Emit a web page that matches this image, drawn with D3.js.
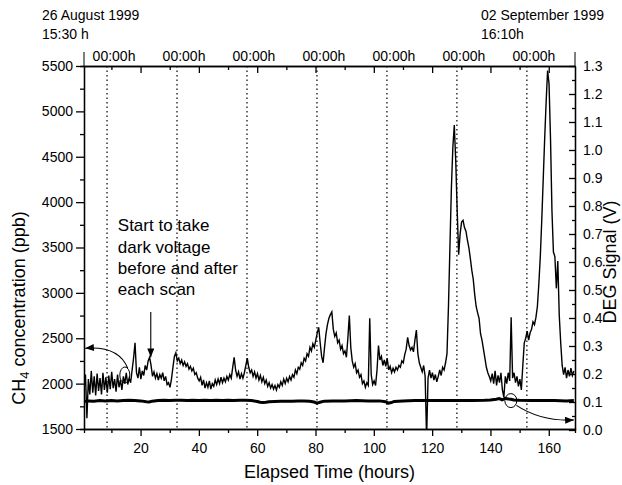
<!DOCTYPE html>
<html>
<head>
<meta charset="utf-8">
<script src="https://cdn.jsdelivr.net/npm/d3@7"></script>
<style>
  body { margin: 0; background: #fff; }
  text { font-family: "Liberation Sans", Arial, sans-serif; fill: #000; }
</style>
</head>
<body>
<div id="chart"></div>
<script>
// CH4 concentration (ppb) against elapsed time (hours)
var ch4Series = [
  [0.6,1950],[1.1,2100],[1.6,1620],[2.1,2050],[2.6,1880],[3.1,2140],[3.6,1900],[4.1,2080],
  [4.6,1870],[5.1,2110],[5.6,1920],[6.1,2060],[6.6,1880],[7.1,2120],[7.6,1930],[8.1,2070],
  [8.6,1900],[9.1,2090],[9.6,1940],[10.1,2130],[10.6,1950],[11.1,2050],[11.6,1910],[12.1,2100],
  [12.6,1960],[13.1,2040],[13.6,1930],[14.1,2080],[14.6,2000],[15.1,2120],[15.6,1990],
  [16.1,2060],[16.6,2010],[17.1,2150],[17.6,2280],[18.1,2450],[18.6,2120],[19.1,2060],[19.6,2180],
  [20.1,2050],[20.6,2140],[21.1,2090],[21.6,2200],[22.1,2150],[22.6,2250],[23.1,2290],[23.6,2200],
  [24.1,2080],[24.6,2130],[25.1,2060],[25.6,2110],[26.1,2040],[26.6,2100],[27.1,2060],[27.6,2120],
  [28.1,2030],[28.6,2080],[29.1,1990],[29.6,2010],[30.1,1960],[30.6,2050],[31.1,2180],[31.6,2300],
  [32.1,2340],[32.6,2250],[33.1,2280],[33.6,2220],[34.1,2260],[34.6,2200],[35.1,2240],[35.6,2190],
  [36.1,2220],[36.6,2160],[37.1,2190],[37.6,2140],[38.1,2170],[38.6,2100],[39.1,2120],[39.6,2060],
  [40.1,2030],[40.6,2070],[41.1,1980],[41.6,2040],[42.1,1950],[42.6,2010],[43.1,1960],[43.6,2030],
  [44.1,1940],[44.6,2000],[45.1,1970],[45.6,2040],[46.1,1990],[46.6,2050],[47.1,2000],[47.6,2070],
  [48.1,2010],[48.6,2060],[49.1,2020],[49.6,2080],[50.1,2040],[50.6,2100],[51.1,2060],[51.6,2180],
  [52.1,2290],[52.6,2150],[53.1,2080],[53.6,2130],[54.1,2050],[54.6,2110],[55.1,2060],[55.6,2120],
  [56.1,2200],[56.6,2280],[57.1,2180],[57.6,2120],[58.1,2150],[58.6,2080],[59.1,2130],[59.6,2060],
  [60.1,2110],[60.6,2040],[61.1,2090],[61.6,2020],[62.1,2070],[62.6,2000],[63.1,2040],[63.6,1970],
  [64.1,2010],[64.6,1950],[65.1,1990],[65.6,1940],[66.1,1980],[66.6,1930],[67.1,1990],[67.6,1960],
  [68.1,2020],[68.6,1980],[69.1,2050],[69.6,2000],[70.1,2060],[70.6,2020],[71.1,2080],[71.6,2040],
  [72.1,2100],[72.6,2070],[73.1,2150],[73.6,2110],[74.1,2180],[74.6,2160],[75.1,2230],[75.6,2200],
  [76.1,2280],[76.6,2250],[77.1,2330],[77.6,2300],[78.1,2400],[78.6,2360],[79.1,2440],[79.6,2400],
  [80.1,2480],[80.6,2560],[81.1,2620],[81.6,2450],[82.1,2300],[82.6,2230],[83.1,2400],[83.6,2550],
  [84.1,2650],[84.6,2720],[85.1,2760],[85.6,2790],[86.1,2600],[86.6,2520],[87.1,2560],[87.6,2450],
  [88.1,2480],[88.6,2380],[89.1,2420],[89.6,2330],[90.1,2360],[90.6,2290],[91.1,2500],[91.6,2750],
  [92.1,2400],[92.6,2250],[93.1,2180],[93.6,2220],[94.1,2120],[94.6,2150],[95.1,2070],[95.6,2100],
  [96.1,2000],[96.6,2030],[97.1,1960],[97.6,2010],[98.1,1980],[98.6,2720],[99.1,2100],[99.6,1990],
  [100.1,2030],[100.6,1980],[101.1,2150],[101.6,2420],[102.1,2260],[102.6,2300],[103.1,2200],[103.6,2260],
  [104.1,2190],[104.6,2280],[105.1,2150],[105.6,2190],[106.1,2120],[106.6,2170],[107.1,2130],[107.6,2180],
  [108.1,2150],[108.6,2200],[109.1,2180],[109.6,2250],[110.1,2230],[110.6,2320],[111.1,2380],[111.6,2510],
  [112.1,2420],[112.6,2370],[113.1,2400],[113.6,2350],[114.1,2480],[114.6,2590],[115.1,2330],[115.6,2230],
  [116.1,2180],[116.6,2130],[117.1,2200],[117.6,2080],[118.1,1400],[118.6,2060],[119.1,2150],[119.6,2060],
  [120.1,2120],[120.6,2040],[121.1,2100],[121.6,2020],[122.1,2080],[122.6,2150],[123.1,2090],[123.6,2180],
  [124.1,2150],[124.6,2230],[125.1,2330],[125.6,2850],[126.1,3500],[126.6,4150],[127.1,4600],[127.6,4850],
  [128.1,4450],[128.6,3900],[129.1,3420],[129.6,3650],[130.1,3780],[130.6,3800],[131.1,3720],[131.6,3680],
  [132.1,3580],[132.6,3500],[133.1,3380],[133.6,3250],[134.1,3150],[134.6,2980],[135.1,2850],[135.6,2780],
  [136.1,2720],[136.6,2550],[137.1,2480],[137.6,2380],[138.1,2280],[138.6,2180],[139.1,2120],[139.6,2080],
  [140.1,2030],[140.6,2110],[141.1,2000],[141.6,2140],[142.1,1980],[142.6,2090],[143.1,2010],[143.6,2120],
  [144.1,1930],[144.6,1850],[145.1,2080],[145.6,2000],[146.1,2120],[146.6,2030],[147.1,2730],[147.6,2060],
  [148.1,2120],[148.6,2010],[149.1,2080],[149.6,1970],[150.1,2050],[150.6,1930],[151.1,2200],[151.6,2450],
  [152.1,2500],[152.6,2580],[153.1,2480],[153.6,2560],[154.1,2600],[154.6,2680],[155.1,2650],[155.6,2730],
  [156.1,2850],[156.6,3100],[157.1,3400],[157.6,3800],[158.1,4250],[158.6,4700],[159.1,5100],[159.6,5450],
  [160.1,5300],[160.6,4700],[161.1,3900],[161.6,3450],[162.1,3400],[162.6,3050],[163.1,3350],[163.6,2750],
  [164.1,2450],[164.6,2200],[165.1,2100],[165.6,2180],[166.1,2060],[166.6,2150],[167.1,2080],[167.6,2170],
  [168.1,2090],[168.6,2140]
];

// DEG signal (V), the thick flat trace
var degSeries = [
  [0.6,0.102],[2,0.104],[4,0.103],[6,0.105],[8,0.104],[10,0.105],[12,0.104],[14,0.105],[16,0.106],
  [18,0.105],[20,0.104],[22,0.101],[23,0.100],[24,0.103],[26,0.105],[28,0.106],[30,0.105],[32,0.106],
  [34,0.106],[36,0.105],[38,0.106],[40,0.105],[42,0.106],[44,0.105],[46,0.106],[48,0.105],[50,0.106],
  [52,0.105],[54,0.106],[56,0.106],[58,0.105],[60,0.102],[61,0.099],[62,0.098],[63,0.099],[64,0.101],
  [66,0.102],[68,0.103],[70,0.103],[72,0.103],[74,0.104],[76,0.104],[78,0.103],[79.5,0.100],[80.5,0.096],
  [81.5,0.099],[83,0.103],[86,0.104],[90,0.104],[94,0.105],[98,0.104],[102,0.104],[104,0.101],[105,0.096],
  [106,0.098],[107,0.102],[110,0.104],[114,0.105],[118,0.105],[122,0.105],[126,0.105],[130,0.105],
  [134,0.105],[138,0.106],[140,0.107],[142,0.110],[143,0.112],[144,0.108],[145,0.113],[146,0.111],
  [147,0.110],[148,0.107],[150,0.106],[154,0.105],[158,0.105],[162,0.105],[166,0.104],[168.6,0.105]
];

// midnights (hours after 15:30 start)
var midnights = [8.5, 32.5, 56.5, 80.5, 104.5, 128.5, 152.5];
var ch4Ticks = [1500, 2000, 2500, 3000, 3500, 4000, 4500, 5000, 5500];
var degTicks = d3.range(0, 14).map(function(i) { return i / 10; });
var timeTicks = [20, 40, 60, 80, 100, 120, 140, 160];
var noteLines = ["Start to take", "dark voltage", "before and after", "each scan"];

function init() {
    var w = 622, h = 485;
    var pLeft = 84, pRight = 575, pTop = 66, pBottom = 429;

    var svg = d3.select("#chart").append("svg")
        .attr("width", w)
        .attr("height", h);

    var x = d3.scaleLinear().domain([0.6, 169]).range([pLeft, pRight]);
    var yL = d3.scaleLinear().domain([1500, 5500]).range([pBottom, pTop]);
    var yR = d3.scaleLinear().domain([0, 1.3]).range([pBottom + 1, pTop]);

    var defs = svg.append("defs");
    defs.append("clipPath").attr("id", "plot")
      .append("rect")
        .attr("x", pLeft).attr("y", pTop)
        .attr("width", pRight - pLeft).attr("height", pBottom - pTop);

    var marker = defs.append("marker")
        .attr("id", "arrow")
        .attr("viewBox", "0 0 10 8")
        .attr("refX", 10).attr("refY", 4)
        .attr("markerUnits", "userSpaceOnUse")
        .attr("markerWidth", 10).attr("markerHeight", 7)
        .attr("orient", "auto");
    marker.append("path").attr("d", "M0,0L10,4L0,8Z").attr("fill", "#000");

    // midnight dotted lines
    svg.selectAll(".mid")
      .data(midnights)
      .enter().append("line")
        .attr("class", "mid")
        .attr("x1", function(d) { return x(d); })
        .attr("x2", function(d) { return x(d); })
        .attr("y1", pTop)
        .attr("y2", pBottom)
        .attr("stroke", "#000")
        .attr("stroke-width", 1.2)
        .attr("stroke-dasharray", "1.5,3");

    // top labels
    svg.selectAll(".midLabel")
      .data(midnights)
      .enter().append("text")
        .attr("class", "midLabel")
        .attr("x", function(d) { return x(d) + 7; })
        .attr("y", 61)
        .attr("text-anchor", "middle")
        .style("font-size", "14px")
        .text("00:00h");

    // axes
    function styleAxis(g) {
        g.selectAll("path, line").attr("stroke", "#000").attr("stroke-width", 1.3);
        g.selectAll("text").style("font-size", "14px").attr("fill", "#000")
          .style("font-family", "'Liberation Sans', Arial, sans-serif");
    }

    svg.append("g").attr("transform", "translate(" + pLeft + ",0)")
      .call(d3.axisLeft(yL).tickValues(d3.range(1750, 5500, 500)).tickSize(4).tickFormat(""))
      .call(styleAxis);
    svg.append("g").attr("transform", "translate(" + pLeft + ",0)")
      .call(d3.axisLeft(yL).tickValues(ch4Ticks).tickSizeInner(8).tickSizeOuter(0).tickPadding(3).tickFormat(d3.format("d")))
      .call(styleAxis);

    svg.append("g").attr("transform", "translate(" + pRight + ",0)")
      .call(d3.axisRight(yR).tickValues(d3.range(0.05, 1.3, 0.1)).tickSizeInner(-3).tickSizeOuter(0).tickFormat(""))
      .call(styleAxis);
    svg.append("g").attr("transform", "translate(" + pRight + ",0)")
      .call(d3.axisRight(yR).tickValues(degTicks).tickSizeInner(-6).tickSizeOuter(0).tickPadding(8).tickFormat(d3.format(".1f")))
      .call(styleAxis);

    svg.append("g").attr("transform", "translate(0," + pBottom + ")")
      .call(d3.axisBottom(x).tickValues(d3.range(10, 170, 20)).tickSize(4).tickFormat(""))
      .call(styleAxis);
    svg.append("g").attr("transform", "translate(0," + pBottom + ")")
      .call(d3.axisBottom(x).tickValues(timeTicks).tickSizeInner(7).tickSizeOuter(0).tickPadding(7))
      .call(styleAxis);

    svg.append("g").attr("transform", "translate(0," + pTop + ")")
      .call(d3.axisTop(x).tickValues(d3.range(10, 170, 20)).tickSizeInner(-4).tickSizeOuter(0).tickFormat(""))
      .call(styleAxis);
    svg.append("g").attr("transform", "translate(0," + pTop + ")")
      .call(d3.axisTop(x).tickValues(timeTicks).tickSizeInner(-7).tickSizeOuter(0).tickFormat(""))
      .call(styleAxis);

    // short frame marks above the plot
    [pLeft, pRight].forEach(function(px) {
        svg.append("line")
          .attr("x1", px).attr("x2", px).attr("y1", 52).attr("y2", pTop)
          .attr("stroke", "#000").attr("stroke-width", 1);
    });

    // data lines
    var ch4Line = d3.line()
        .x(function(d) { return x(d[0]); })
        .y(function(d) { return yL(d[1]); });

    var degLine = d3.line()
        .x(function(d) { return x(d[0]); })
        .y(function(d) { return yR(d[1]); });

    svg.append("path")
        .datum(degSeries)
        .attr("clip-path", "url(#plot)")
        .attr("fill", "none")
        .attr("stroke", "#000")
        .attr("stroke-width", 3)
        .attr("d", degLine);

    svg.append("path")
        .datum(ch4Series)
        .attr("clip-path", "url(#plot)")
        .attr("fill", "none")
        .attr("stroke", "#000")
        .attr("stroke-width", 1.4)
        .attr("d", ch4Line);

    // annotation text and arrows
    svg.selectAll(".note")
      .data(noteLines)
      .enter().append("text")
        .attr("class", "note")
        .attr("x", x(12.2))
        .attr("y", function(d, i) { return yL(3680) + i * 21.4; })
        .style("font-size", "17px")
        .text(function(d) { return d; });

    svg.append("line")
        .attr("x1", x(23.5)).attr("x2", x(23.5))
        .attr("y1", yL(2790)).attr("y2", yL(2290))
        .attr("stroke", "#000").attr("stroke-width", 1.1)
        .attr("marker-end", "url(#arrow)");

    // circled CH4 trace, arrow to the left axis
    svg.append("ellipse")
        .attr("cx", x(14.6)).attr("cy", yL(2095))
        .attr("rx", 5).attr("ry", 8)
        .attr("fill", "none").attr("stroke", "#000").attr("stroke-width", 1);
    svg.append("path")
        .attr("d", "M" + x(15.6) + "," + yL(2170) +
                   "Q" + x(12.5) + "," + yL(2420) + " " + x(1.0) + "," + yL(2390))
        .attr("fill", "none").attr("stroke", "#000").attr("stroke-width", 1.1)
        .attr("marker-end", "url(#arrow)");

    // circled DEG trace, arrow to the right axis
    svg.append("ellipse")
        .attr("cx", x(147)).attr("cy", yR(0.105))
        .attr("rx", 6).attr("ry", 7)
        .attr("fill", "none").attr("stroke", "#000").attr("stroke-width", 1);
    svg.append("path")
        .attr("d", "M" + x(148.9) + "," + yR(0.088) +
                   "Q" + x(157.4) + "," + yR(0.03) + " " + x(168.6) + "," + yR(0.036))
        .attr("fill", "none").attr("stroke", "#000").attr("stroke-width", 1.1)
        .attr("marker-end", "url(#arrow)");

    // axis titles
    var yTitle = svg.append("text")
        .attr("transform", "translate(25,308) rotate(-90)")
        .attr("text-anchor", "middle")
        .style("font-size", "18px");
    yTitle.append("tspan").text("CH");
    yTitle.append("tspan").attr("dy", 4).style("font-size", "13px").text("4");
    yTitle.append("tspan").attr("dy", -4).text(" concentration (ppb)");

    svg.append("text")
        .attr("transform", "translate(616,262) rotate(-90)")
        .attr("text-anchor", "middle")
        .style("font-size", "18px")
        .text("DEG Signal (V)");

    svg.append("text")
        .attr("x", (pLeft + pRight) / 2)
        .attr("y", 478)
        .attr("text-anchor", "middle")
        .style("font-size", "18px")
        .text("Elapsed Time (hours)");

    // start / end dates
    svg.append("text").attr("x", 42).attr("y", 20).style("font-size", "14px").text("26 August 1999");
    svg.append("text").attr("x", 42).attr("y", 39).style("font-size", "14px").text("15:30 h");
    svg.append("text").attr("x", 481).attr("y", 20).style("font-size", "14px").text("02 September 1999");
    svg.append("text").attr("x", 481).attr("y", 39).style("font-size", "14px").text("16:10h");
}

window.onload = init;
</script>
</body>
</html>
